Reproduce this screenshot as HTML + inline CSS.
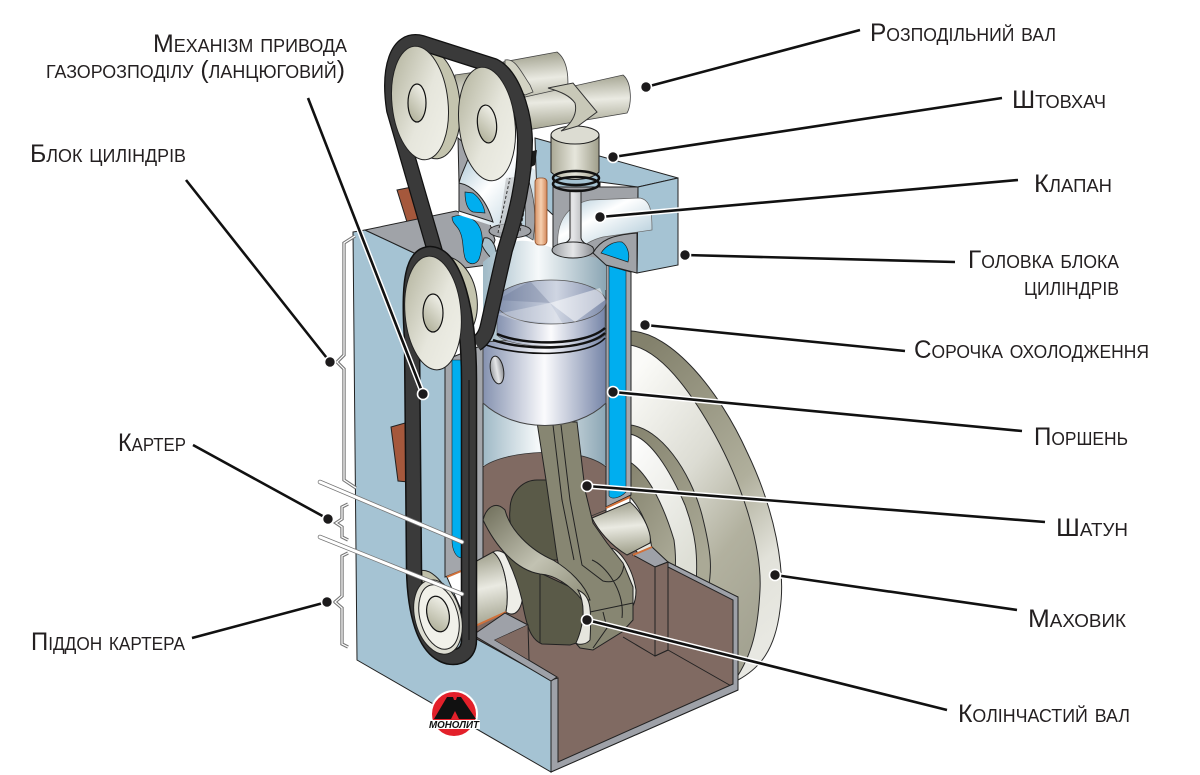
<!DOCTYPE html>
<html><head><meta charset="utf-8"><style>
html,body{margin:0;padding:0;background:#fff}
svg{display:block}
text.l{font-family:"Liberation Sans","DejaVu Sans",sans-serif;font-variant:small-caps;font-size:25px;fill:#231f20}
.o{stroke:#2a2a2a;stroke-width:1;stroke-linejoin:round}
</style></head><body>
<svg width="1200" height="775" viewBox="0 0 1200 775" xmlns="http://www.w3.org/2000/svg">
<defs>
<linearGradient id="rim" x1="0.2" y1="0" x2="0.6" y2="1"><stop offset="0" stop-color="#83816c"/><stop offset="0.55" stop-color="#b0af9c"/><stop offset="0.8" stop-color="#e2e2da"/><stop offset="1" stop-color="#e8e8e2"/></linearGradient>
<linearGradient id="face" x1="0.2" y1="0" x2="0.7" y2="1"><stop offset="0" stop-color="#fbfbf8"/><stop offset="0.4" stop-color="#dcdcd3"/><stop offset="0.7" stop-color="#b2b19f"/><stop offset="1" stop-color="#a4a392"/></linearGradient>
<linearGradient id="rd" x1="0" y1="0" x2="0.6" y2="1"><stop offset="0" stop-color="#85836e"/><stop offset="1" stop-color="#aaa996"/></linearGradient>
<linearGradient id="rl" x1="0" y1="0" x2="0.6" y2="1"><stop offset="0" stop-color="#fff"/><stop offset="1" stop-color="#dedfd6"/></linearGradient>
<linearGradient id="cyl" x1="0" y1="0" x2="1" y2="0"><stop offset="0" stop-color="#9fb9c6"/><stop offset="0.45" stop-color="#f6f9fa"/><stop offset="1" stop-color="#8ba6b4"/></linearGradient>
<linearGradient id="pst" x1="0" y1="0" x2="1" y2="0"><stop offset="0" stop-color="#8592b0"/><stop offset="0.5" stop-color="#fbfbfd"/><stop offset="1" stop-color="#7685a8"/></linearGradient>
<linearGradient id="crown" x1="0" y1="0" x2="1" y2="0"><stop offset="0" stop-color="#8290ad"/><stop offset="0.55" stop-color="#cfd5e2"/><stop offset="1" stop-color="#7e8baa"/></linearGradient>
<linearGradient id="pul" x1="0" y1="0" x2="1" y2="1"><stop offset="0" stop-color="#aeae97"/><stop offset="0.55" stop-color="#e6e6dc"/><stop offset="1" stop-color="#f1f1ea"/></linearGradient>
<linearGradient id="pul2" x1="0.8" y1="0" x2="0.2" y2="1"><stop offset="0" stop-color="#f3f3ec"/><stop offset="1" stop-color="#aeae97"/></linearGradient>
<linearGradient id="shaft" x1="0.1" y1="0" x2="0.2" y2="1"><stop offset="0" stop-color="#9a9a86"/><stop offset="0.5" stop-color="#eaeae2"/><stop offset="1" stop-color="#a3a38f"/></linearGradient>
<linearGradient id="tap" x1="0" y1="0" x2="1" y2="0"><stop offset="0" stop-color="#aaa996"/><stop offset="0.5" stop-color="#e6e6dc"/><stop offset="1" stop-color="#9f9e8a"/></linearGradient>
<linearGradient id="rod" x1="0" y1="0" x2="1" y2="0"><stop offset="0" stop-color="#d89468"/><stop offset="0.5" stop-color="#f6d0b0"/><stop offset="1" stop-color="#d3875a"/></linearGradient>
<linearGradient id="port" x1="0" y1="0" x2="1" y2="1"><stop offset="0" stop-color="#a5c3d3"/><stop offset="0.4" stop-color="#fff"/><stop offset="1" stop-color="#a5c3d3"/></linearGradient>
<linearGradient id="vlv" x1="0" y1="0" x2="1" y2="0"><stop offset="0" stop-color="#9da0a4"/><stop offset="0.5" stop-color="#e5e6e8"/><stop offset="1" stop-color="#8a8d92"/></linearGradient>
<linearGradient id="web" x1="0" y1="0" x2="1" y2="1"><stop offset="0" stop-color="#6f6e5a"/><stop offset="0.55" stop-color="#c2c2b2"/><stop offset="1" stop-color="#8b8a75"/></linearGradient>
</defs>

<!-- flywheel -->
<path class="o" fill="url(#rim)" d="M630,331 C672,332 720,392 747,452 C775,510 786,570 780,610 C775,650 760,668 738,680 L630,683Z"/>
<path class="o" fill="url(#face)" d="M630,345 C660,350 690,390 715,435 C745,490 762,550 760,590 C758,630 752,655 735,680 L630,680Z"/>
<path class="o" fill="url(#rd)" d="M630,425 C660,428 690,470 702,515 C712,555 712,570 708,590 L630,590Z"/>
<path class="o" fill="url(#rl)" d="M630,434 C650,438 670,470 685,505 C696,535 698,555 696,585 L630,585Z"/>
<path class="o" fill="url(#rd)" d="M630,462 C650,475 665,510 674,540 C676,555 676,565 674,585 L630,585Z"/>
<path class="o" fill="url(#rl)" d="M630,497 C642,510 650,530 652,550 L652,585 L630,585Z"/>

<!-- crankcase interior -->
<path fill="#806a62" stroke="#222" d="M483,467 C505,452 580,445 606,467 L606,520 L640,555 L738,597 L738,690 L551,772 L551,680 L473,637 Z"/>
<path fill="none" stroke="#222" d="M668,650 L733,687 M623,637 L655,656 M655,656 L668,650"/>
<!-- right case wall -->
<path fill="#9ea1a8" stroke="#222" d="M668,562 L738,597 L738,690 L551,772 L551,680 L558,678 L558,762 L733,684 L733,600 L668,567 Z"/>
<path fill="#9ea1a8" stroke="#222" d="M633,555 L652,547 L668,562 L655,567 Z"/>
<path fill="#806a62" stroke="#222" d="M655,567 L668,562 L668,650 L655,656 Z"/>
<path fill="none" stroke="#d2713a" stroke-width="2" d="M633,555 L652,547"/>

<!-- block left face -->
<path fill="#a5c3d3" stroke="#222" d="M353,232 L365,230 L412,252 L446,265 L446,575 L473,637 L551,680 L551,772 L357,660 Z"/>
<!-- copper blocks -->
<path fill="#a5583c" stroke="#222" d="M397,190 L412,187 L424,226 L412,238 Z"/>
<path fill="#a5583c" stroke="#222" d="M391,427 L405,423 L408,482 L398,481 Z"/>

<!-- cylinder -->
<rect x="483" y="250" width="123" height="215" fill="url(#cyl)"/>
<path fill="#806a62" stroke="#333" stroke-width=".8" d="M483,467 C505,450 580,445 606,467 L606,510 L483,560Z"/>
<!-- left wall -->
<path fill="#a3a6ab" stroke="#222" d="M445,360 L483,345 L483,562 L445,577 Z"/>
<path fill="#00aeef" stroke="#222" stroke-width=".6" d="M452,360 L470,360 L470,530 L462,558 C456,558 452,550 452,540Z"/>
<!-- right wall -->
<path fill="#a3a6ab" stroke="#222" d="M606,265 L631,272 L631,495 L606,507 Z"/>
<path fill="#00aeef" stroke="#222" stroke-width=".6" d="M609,266 L626,271 L626,492 C620,498 612,500 609,496 Z"/>
<path fill="none" stroke="#d2713a" stroke-width="2" d="M606,508 L630,497 M447,577 L483,562"/>

<!-- main journals -->
<path fill="url(#shaft)" stroke="#222" d="M592,518 L630,502 C645,515 652,535 650,543 L627,555 C610,545 598,530 592,518Z"/>
<path fill="#e9e9e2" stroke="#222" d="M610,548 C618,548 632,565 636,590 C636,605 630,612 628,610 C632,590 625,560 610,548Z"/>
<path fill="url(#shaft)" stroke="#222" d="M473,563 L493,552 C504,560 510,590 506,612 L473,627 Z"/>
<path fill="#eeeee8" stroke="#222" d="M493,552 C505,545 522,570 523,590 C523,610 515,618 506,612 C510,590 504,560 493,552Z"/>
<path fill="none" stroke="#d2713a" stroke-width="2" d="M473,627 L506,612"/>

<!-- crank web back -->
<path fill="#5a5a48" stroke="#222" d="M510,510 C510,490 525,480 537,480 L560,480 L570,560 L530,560 C515,545 508,525 510,510Z"/>
<!-- conrod -->
<path fill="#878672" stroke="#222" d="M537,422 L577,422 L585,490 L593,523 L607,543 L623,563 L633,587 L633,620 L622,632 L593,650 L580,648 L573,640 L557,557 L546,480 Z"/>
<path fill="none" stroke="#222" d="M553,425 L562,500 L574,560 M561,425 L570,500 L582,565 L603,581 C615,584 622,578 624,565 M590,612 L633,603 M603,612 L607,628 L593,648 M592,560 C605,565 625,590 622,618"/>
<!-- crank web -->
<path fill="#5a5a48" stroke="#222" d="M483,520 L540,573 L583,593 L586,640 L570,645 L542,644 C532,640 527,630 522,600 C515,570 500,540 483,520Z"/>
<path fill="url(#web)" stroke="#222" d="M483,520 C486,508 495,500 505,510 C510,530 530,550 553,560 C570,570 585,585 590,600 L582,600 C570,585 555,575 540,574 C515,570 495,545 483,520Z"/>
<path fill="#e6e6de" stroke="#222" d="M578,590 C590,596 592,605 590,640 C586,645 578,645 576,643 C584,625 586,605 578,590Z"/>
<path fill="none" stroke="#222" d="M540,574 L540,643"/>

<!-- casing left top grey -->
<path fill="#9ea1a8" stroke="#222" d="M473,635 L505,613 L528,625 L495,640 L557,677 L551,681 Z"/>
<path fill="#806a62" d="M495,640 L528,625 L529,660 Z"/>
<path fill="none" stroke="#222" d="M528,625 L529,660"/>

<!-- head top surface -->
<path fill="#a0a3a8" stroke="#222" d="M365,230 L456,211 L490,224 L495,240 L487,265 L450,270 L412,252 Z"/>
<path fill="#00aeef" stroke="#222" stroke-width=".7" d="M452,217 C462,213 475,217 480,228 C484,238 482,250 480,256 C478,266 468,266 465,258 C462,248 464,240 460,232 C458,226 452,224 452,217Z"/>
<path fill="#a8c0cc" stroke="#222" d="M484,238 C492,236 498,248 496,262 C490,258 484,250 482,245Z"/>
<!-- head block -->
<path fill="#a5c3d3" stroke="#222" d="M535,138 L678,178 L638,187 L600,182 L600,200 L553,200 L553,215 L537,200 Z"/>
<path fill="#a5c3d3" stroke="#222" d="M638,187 L678,178 L678,265 L637,273 Z"/>
<path fill="#a0a3a8" stroke="#222" d="M553,187 L638,187 L637,273 L606,265 L553,250 Z"/>
<path fill="url(#cyl)" d="M498,250 C520,232 540,245 560,250 L606,260 L606,290 L483,290 L483,262 Z"/>
<!-- port -->
<path fill="url(#port)" stroke="#666" stroke-width=".7" d="M558,247 C556,225 565,205 590,200 L640,198 C650,200 652,210 652,230 L603,237 C590,240 582,247 582,247 Z"/>
<path fill="#a0a3a8" stroke="#222" d="M593,253 C600,240 612,235 637,233 L637,273 L606,265 Z"/>
<path fill="#00aeef" stroke="#222" stroke-width=".7" d="M601,253 C606,245 615,241 622,242 C628,246 630,255 628,262 Z"/>
<!-- valve -->
<path fill="url(#vlv)" stroke="#222" d="M570,190 L581,190 L581,238 C582,243 588,245 593,247 L553,247 C560,245 569,243 570,238Z"/>
<ellipse cx="573" cy="250" rx="21" ry="8" fill="url(#vlv)" stroke="#222"/>

<!-- left cast part -->
<path fill="url(#port)" d="M467,150 C465,170 462,178 459,183 L459,215 L490,225 L535,240 L535,170 L510,150 Z"/>
<path fill="#a0a3a8" stroke="#222" d="M458,138 L470,148 C470,160 462,170 459,183 Z"/>
<path fill="#a0a3a8" stroke="#222" d="M459,183 C470,185 485,195 493,222 L459,211 Z"/>
<path fill="#00aeef" stroke="#222" stroke-width=".7" d="M465,192 L473,193 C480,198 484,206 485,213 L473,212 C468,210 465,204 465,192Z"/>
<path fill="#a0a3a8" stroke="#444" stroke-width=".7" d="M527,175 C534,195 537,215 533,240 L525,235 C526,215 526,195 521,180Z"/>
<ellipse cx="510" cy="231" rx="21" ry="7" fill="#a0a3a8" stroke="#222"/>
<path fill="#bfc2c4" opacity=".7" d="M506,178 L524,176 L518,232 L498,232 Z"/>
<path fill="none" stroke="#333" stroke-width="1" stroke-dasharray="3 2" d="M498,233 L510,178 M505,233 L517,178 M520,231 C525,210 527,190 524,175"/>
<!-- orange rod -->
<rect x="535" y="178" width="12" height="67" rx="4" fill="url(#rod)" stroke="#8a4b26" stroke-width=".8"/>

<!-- piston -->
<path fill="url(#pst)" stroke="#444" d="M483,342 L606,335 L606,403 C575,433 515,433 483,403Z" />
<path fill="url(#pst)" stroke="#555" stroke-width=".6" d="M497,302 L605,302 L605,335 C590,350 510,350 497,335 Z"/>
<path fill="none" stroke="#111" stroke-width="2.4" d="M497,334 C525,346 585,346 605,328 M493,340 C525,351 585,351 605,333"/>
<path fill="none" stroke="#111" stroke-width="1.6" d="M486,345 C525,358 590,356 605,338"/>
<ellipse cx="551" cy="302" rx="55" ry="22" fill="url(#crown)" stroke="#555" stroke-width=".8"/>
<path fill="#fff" opacity=".5" d="M550,303 L600,288 L605,300 L575,322 Z"/>
<path fill="#5f6d8f" opacity=".3" d="M550,303 L530,281 L497,300 Z"/>
<path fill="#fff" opacity=".3" d="M550,303 L497,314 L515,320 L563,324Z"/>
<ellipse cx="497" cy="370" rx="6.5" ry="14" fill="url(#vlv)" stroke="#222" transform="rotate(-10 497 370)"/>

<!-- cams -->
<path fill="url(#shaft)" stroke="#444" stroke-width=".8" d="M503,62 L557,52 C568,60 570,80 566,100 L533,110 Z"/>
<path fill="#d3d3c4" stroke="#444" stroke-width=".8" d="M505,60 C515,58 520,70 530,85 L533,92 L525,95 L505,80Z"/>
<path fill="url(#shaft)" stroke="#444" stroke-width=".8" d="M455,75 L490,70 L490,120 L455,125 Z"/>
<path fill="url(#shaft)" stroke="#444" stroke-width=".8" d="M525,97 L623,75 C632,82 632,105 627,113 L527,130 Z"/>
<path fill="url(#tap)" stroke="#222" d="M551,135 L599,135 L599,172 C590,182 560,182 551,172 Z"/>
<ellipse cx="575" cy="135" rx="24" ry="9" fill="#dcdcd2" stroke="#222"/>
<path fill="#c8c8b8" stroke="#333" d="M548,88 L573,83 L597,112 L578,126 L561,131 C570,125 578,115 575,103 C570,96 562,92 548,88Z"/>
<ellipse cx="576" cy="178" rx="23" ry="7" fill="none" stroke="#111" stroke-width="2.5"/>
<ellipse cx="576" cy="184" rx="23" ry="7" fill="none" stroke="#111" stroke-width="2.5"/>
<path fill="#1b1b1b" d="M528,152 L537,150 L535,165 L525,170 Z"/>

<!-- pulley thickness -->
<ellipse cx="447" cy="300" rx="30" ry="44" fill="#c4c4ae" stroke="#222" transform="rotate(-8 447 300)"/>
<ellipse cx="431" cy="605" rx="20" ry="36" fill="#c0c0aa" stroke="#222" transform="rotate(-20 431 605)"/>
<ellipse cx="432" cy="104" rx="28" ry="55" fill="#c4c4ae" stroke="#222" transform="rotate(-6 432 104)"/>

<!-- belts -->
<path fill="none" stroke="#111" stroke-width="16" stroke-linejoin="round" d="M436,255 L394,110 C388,70 396,36 422,43 L494,66 C512,75 524,110 525,140 C525,180 516,215 505,250 L488,325 C486,335 482,340 476,344"/>
<path fill="none" stroke="#3a3a3a" stroke-width="13.5" stroke-linejoin="round" d="M436,255 L394,110 C388,70 396,36 422,43 L494,66 C512,75 524,110 525,140 C525,180 516,215 505,250 L488,325 C486,335 482,340 476,344"/>
<path fill="none" stroke="#111" stroke-width="16.5" stroke-linejoin="round" d="M412,340 C408,280 413,255 430,254 C455,255 469,310 469,380 L469,640 C469,658 452,660 442,654 C425,645 415,615 414,570 Z"/>
<path fill="none" stroke="#3a3a3a" stroke-width="13.5" stroke-linejoin="round" d="M412,340 C408,280 413,255 430,254 C455,255 469,310 469,380 L469,640 C469,658 452,660 442,654 C425,645 415,615 414,570 Z"/>
<path fill="none" stroke="#111" stroke-width="1" d="M469,380 L469,640"/>

<!-- pulley faces over belts -->
<ellipse cx="420" cy="103" rx="28" ry="57" fill="url(#pul)" stroke="#222" transform="rotate(-6 420 103)"/>
<ellipse cx="417" cy="103" rx="9" ry="19" fill="url(#pul2)" stroke="#111" stroke-width="1.2"/>
<ellipse cx="487" cy="124" rx="28" ry="57" fill="url(#pul)" stroke="#222" transform="rotate(-6 487 124)"/>
<ellipse cx="487" cy="124" rx="9.5" ry="19" fill="url(#pul2)" stroke="#111" stroke-width="1.2" transform="rotate(-6 487 124)"/>
<ellipse cx="433" cy="313" rx="28" ry="57" fill="url(#pul)" stroke="#222" transform="rotate(-5 433 313)"/>
<ellipse cx="433" cy="313" rx="10" ry="19" fill="url(#pul2)" stroke="#111" stroke-width="1.2"/>
<ellipse cx="438" cy="617" rx="23" ry="38" fill="#ddddd2" stroke="#222" transform="rotate(-15 438 617)"/>
<ellipse cx="439" cy="617" rx="19" ry="33" fill="#f1f1ea" stroke="#222" transform="rotate(-15 439 617)"/>
<ellipse cx="438" cy="614" rx="11" ry="18" fill="url(#pul2)" stroke="#111" stroke-width="1.2" transform="rotate(-12 438 614)"/>

<!-- ladder lines -->
<path fill="none" stroke="#777" stroke-width="4.5" stroke-linecap="round" d="M320,482 L462,542 M320,537 L462,594"/>
<path fill="none" stroke="#fff" stroke-width="3" stroke-linecap="round" d="M320,482 L462,542 M320,537 L462,594"/>

<!-- brackets -->
<g fill="none" stroke="#777" stroke-width="3.4" stroke-linejoin="miter">
<path d="M355,236 L344,243 L344,355 L337,362 L344,369 L344,480 L356,488"/>
<path d="M348,504 L342,507 L342,519 L336,523 L342,527 L342,537 L348,540"/>
<path d="M348,553 L342,556 L342,596 L335,602 L342,608 L342,644 L348,647"/>
</g>
<g fill="none" stroke="#fff" stroke-width="1.2">
<path d="M355,236 L344,243 L344,355 L337,362 L344,369 L344,480 L356,488"/>
<path d="M348,504 L342,507 L342,519 L336,523 L342,527 L342,537 L348,540"/>
<path d="M348,553 L342,556 L342,596 L335,602 L342,608 L342,644 L348,647"/>
</g>

<!-- connectors -->
<g fill="none" stroke="#fff" stroke-width="5.5">
<path d="M613,157 L1002,98 M600,217 L1018,180 M685,255 L955,262 M645,325 L905,351 M613,392 L1022,431 M587,486 L1045,522 M775,575 L1017,610 M587,620 L947,710 M423,394 L308,98 M330,362 L186,180 M328,519 L193,445 M327,602 L192,638 M646,87 L860,30"/>
</g>
<g fill="none" stroke="#111" stroke-width="2.6">
<path d="M613,157 L1002,98 M600,217 L1018,180 M685,255 L955,262 M645,325 L905,351 M613,392 L1022,431 M587,486 L1045,522 M775,575 L1017,610 M587,620 L947,710 M423,394 L308,98 M330,362 L186,180 M328,519 L193,445 M327,602 L192,638 M646,87 L860,30"/>
</g>
<g fill="#1c1a1b" stroke="#fff" stroke-width="1.6">
<circle cx="646" cy="87" r="5.5"/><circle cx="613" cy="157" r="5.5"/><circle cx="600" cy="217" r="5.5"/><circle cx="685" cy="255" r="5.5"/><circle cx="645" cy="325" r="5.5"/><circle cx="613" cy="392" r="5.5"/><circle cx="587" cy="486" r="5.5"/><circle cx="775" cy="575" r="5.5"/><circle cx="587" cy="620" r="5.5"/><circle cx="423" cy="394" r="5.5"/><circle cx="330" cy="362" r="5.5"/><circle cx="328" cy="519" r="5.5"/><circle cx="327" cy="602" r="5.5"/>
</g>

<!-- logo -->
<circle cx="454" cy="714" r="23" fill="#e3202a" stroke="#fff" stroke-width="2"/>
<path fill="#111" d="M434,719 L447,697 L453,697 L454,700 L456,700 L457,697 L461,697 L476,719 L459,719 L455,711 L451,719 Z"/>
<rect x="428" y="720" width="52" height="9" fill="#fff"/>
<text x="454" y="728" text-anchor="middle" font-family="'Liberation Sans',sans-serif" font-size="10" font-weight="bold" font-style="italic" fill="#111" textLength="50" lengthAdjust="spacingAndGlyphs">МОНОЛИТ</text>

<!-- labels -->
<text class="l" x="870" y="41" textLength="186" lengthAdjust="spacingAndGlyphs">Розподільний вал</text>
<text class="l" x="1012" y="108" textLength="94" lengthAdjust="spacingAndGlyphs">Штовхач</text>
<text class="l" x="1034" y="192" textLength="78" lengthAdjust="spacingAndGlyphs">Клапан</text>
<text class="l" x="968" y="268" textLength="151" lengthAdjust="spacingAndGlyphs">Головка блока</text>
<text class="l" x="1024" y="295" textLength="95" lengthAdjust="spacingAndGlyphs">циліндрів</text>
<text class="l" x="914" y="358" textLength="235" lengthAdjust="spacingAndGlyphs">Сорочка охолодження</text>
<text class="l" x="1034" y="445" textLength="94" lengthAdjust="spacingAndGlyphs">Поршень</text>
<text class="l" x="1056" y="536" textLength="72" lengthAdjust="spacingAndGlyphs">Шатун</text>
<text class="l" x="1028" y="627" textLength="98" lengthAdjust="spacingAndGlyphs">Маховик</text>
<text class="l" x="958" y="722" textLength="172" lengthAdjust="spacingAndGlyphs">Колінчастий вал</text>
<text class="l" x="153" y="52" textLength="194" lengthAdjust="spacingAndGlyphs">Механізм привода</text>
<text class="l" x="46" y="78" textLength="299" lengthAdjust="spacingAndGlyphs">газорозподілу (ланцюговий)</text>
<text class="l" x="30" y="162" textLength="156" lengthAdjust="spacingAndGlyphs">Блок циліндрів</text>
<text class="l" x="118" y="451" textLength="68" lengthAdjust="spacingAndGlyphs">Картер</text>
<text class="l" x="31" y="650" textLength="154" lengthAdjust="spacingAndGlyphs">Піддон картера</text>
</svg>
</body></html>
